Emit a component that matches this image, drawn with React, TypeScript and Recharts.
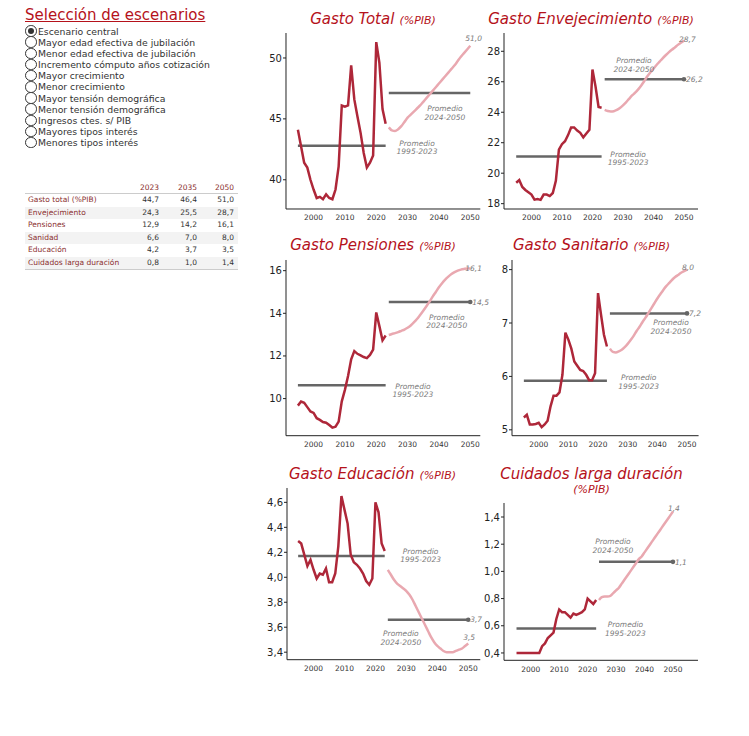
import React from 'react';
import { LineChart, Line, XAxis, YAxis, ReferenceLine, ReferenceDot } from 'recharts';

// años
const histYears = [1995, 1996, 1997, 1998, 1999, 2000, 2001, 2002, 2003, 2004, 2005, 2006, 2007, 2008, 2009,
  2010, 2011, 2012, 2013, 2014, 2015, 2016, 2017, 2018, 2019, 2020, 2021, 2022, 2023];
const projYears = [2024, 2025, 2026, 2027, 2028, 2029, 2030, 2031, 2032, 2033, 2034, 2035, 2036, 2037,
  2038, 2039, 2040, 2041, 2042, 2043, 2044, 2045, 2046, 2047, 2048, 2049, 2050];
const xTicks = [2000, 2010, 2020, 2030, 2040, 2050];

// gasto total
const totalHist = [44.1, 42.75, 41.4, 41.0, 40.0, 39.2, 38.5, 38.6, 38.4, 38.8, 38.5, 38.4, 39.2, 41.1, 46.1,
  46.0, 46.1, 49.4, 46.6, 45.2, 43.85, 42.2, 41.0, 41.4, 42.0, 51.3, 49.6, 45.8, 44.6];
const totalProj = [44.3, 44.05, 44.0, 44.15, 44.4, 44.75, 45.1, 45.35, 45.6, 45.85, 46.1, 46.4, 46.7, 47.0,
  47.3, 47.6, 47.9, 48.2, 48.5, 48.8, 49.1, 49.4, 49.75, 50.1, 50.4, 50.7, 51.0];
const totalAvg = [42.8, 47.13];

// envejecimiento
const envHist = [19.37, 19.55, 19.1, 18.9, 18.75, 18.6, 18.26, 18.3, 18.25, 18.6, 18.6, 18.5, 18.7, 19.5, 21.55,
  21.9, 22.1, 22.5, 23.0, 23.0, 22.8, 22.65, 22.35, 22.6, 22.85, 26.8, 25.7, 24.35, 24.3];
const envProj = [24.15, 24.08, 24.05, 24.07, 24.15, 24.28, 24.45, 24.65, 24.88, 25.1, 25.28, 25.5, 25.76, 26.05,
  26.36, 26.62, 26.86, 27.1, 27.32, 27.54, 27.74, 27.93, 28.1, 28.25, 28.42, 28.56, 28.7];
const envAvg = [21.1, 26.16];

// pensiones
const penHist = [9.67, 9.86, 9.8, 9.6, 9.4, 9.33, 9.08, 9.0, 8.9, 8.87, 8.76, 8.64, 8.68, 8.92, 9.87,
  10.41, 11.06, 11.84, 12.23, 12.1, 12.03, 11.95, 11.9, 12.05, 12.3, 14.04, 13.4, 12.73, 12.96];
const penProj = [12.98, 13.03, 13.07, 13.12, 13.18, 13.24, 13.32, 13.43, 13.57, 13.73, 13.92, 14.12, 14.33, 14.55,
  14.78, 15.0, 15.22, 15.41, 15.58, 15.72, 15.84, 15.93, 16.0, 16.05, 16.08, 16.1, 16.1];
const penAvg = [10.62, 14.53];

// sanitario
const sanHist = [5.23, 5.28, 5.1, 5.1, 5.11, 5.13, 5.05, 5.1, 5.17, 5.44, 5.64, 5.64, 5.7, 6.03, 6.82,
  6.69, 6.52, 6.28, 6.2, 6.12, 6.1, 6.03, 5.93, 5.93, 6.06, 7.56, 7.16, 6.78, 6.56];
const sanProj = [6.52, 6.46, 6.45, 6.47, 6.5, 6.55, 6.61, 6.68, 6.76, 6.85, 6.93, 7.02, 7.1, 7.19,
  7.28, 7.37, 7.46, 7.54, 7.62, 7.69, 7.75, 7.81, 7.86, 7.9, 7.94, 7.97, 8.0];
const sanAvg = [5.92, 7.18];

// educación
const eduHist = [4.29, 4.27, 4.18, 4.09, 4.14, 4.06, 3.99, 4.03, 4.02, 4.07, 3.96, 3.96, 4.03, 4.25, 4.65,
  4.54, 4.43, 4.18, 4.12, 4.1, 4.07, 4.03, 3.97, 3.94, 3.99, 4.6, 4.52, 4.27, 4.21];
const eduProj = [4.06, 4.02, 3.98, 3.95, 3.93, 3.91, 3.89, 3.86, 3.82, 3.77, 3.72, 3.67, 3.62, 3.57,
  3.52, 3.48, 3.45, 3.43, 3.41, 3.4, 3.4, 3.4, 3.41, 3.42, 3.43, 3.45, 3.47];
const eduAvg = [4.17, 3.66];

// cuidados larga duración
const cldHist = [0.4, 0.4, 0.4, 0.4, 0.4, 0.4, 0.4, 0.4, 0.4, 0.45, 0.47, 0.51, 0.53, 0.55, 0.65,
  0.72, 0.7, 0.7, 0.68, 0.66, 0.69, 0.68, 0.69, 0.7, 0.72, 0.8, 0.78, 0.76, 0.79];
const cldProj = [0.79, 0.81, 0.815, 0.815, 0.82, 0.84, 0.86, 0.88, 0.91, 0.94, 0.97, 1.0, 1.03, 1.06,
  1.09, 1.11, 1.14, 1.17, 1.2, 1.23, 1.26, 1.29, 1.32, 1.35, 1.38, 1.41, 1.44];
const cldAvg = [0.58, 1.07];

// escenarios y tabla resumen
const scenarios = ['Escenario central', 'Mayor edad efectiva de jubilación', 'Menor edad efectiva de jubilación',
  'Incremento cómputo años cotización', 'Mayor crecimiento', 'Menor crecimiento', 'Mayor tensión demográfica',
  'Menor tensión demográfica', 'Ingresos ctes. s/ PIB', 'Mayores tipos interés', 'Menores tipos interés'];
const tableYears = ['2023', '2035', '2050'];
const tableRows = ['Gasto total (%PIB)', 'Envejecimiento', 'Pensiones', 'Sanidad', 'Educación', 'Cuidados larga duración'];
const tableValues = [
  ['44,7', '46,4', '51,0'],
  ['24,3', '25,5', '28,7'],
  ['12,9', '14,2', '16,1'],
  ['6,6', '7,0', '8,0'],
  ['4,2', '3,7', '3,5'],
  ['0,8', '1,0', '1,4'],
];

const RED = '#b5121b';
const HIST = '#ae2739';
const PROJ = '#e9a8b0';
const AVG = '#666666';
const NOTE = '#7a7a7a';
const FONT = '"DejaVu Sans", Verdana, sans-serif';
const colRight = [134, 172, 209];

const fmt = (v: number, d: number) => v.toFixed(d).replace('.', ',');

type PanelCfg = {
  title: string; twoLines: boolean;
  tx: number; ty: number;
  x0: number; x1: number; y0: number; y1: number;
  xDomain: [number, number]; yDomain: [number, number];
  yTicks: number[]; dec: number;
  hist: number[]; proj: number[]; avg: number[];
  histNote: [number, number]; projNote: [number, number];
  endDy: number; endDot: boolean;
};

const panels: PanelCfg[] = [
  { title: 'Gasto Total', twoLines: false, tx: 373, ty: 19, x0: 285.7, x1: 480, y0: 33.3, y1: 209.3,
    xDomain: [1991.2, 2053.2], yDomain: [37.6, 52.05], yTicks: [40, 45, 50], dec: 0,
    hist: totalHist, proj: totalProj, avg: totalAvg, histNote: [2033, 42.69], projNote: [2041.9, 45.53], endDy: -7.5, endDot: false },
  { title: 'Gasto Envejecimiento', twoLines: false, tx: 591, ty: 19, x0: 504.3, x1: 698.3, y0: 33.3, y1: 209.3,
    xDomain: [1991, 2054.6], yDomain: [17.65, 29.2], yTicks: [18, 20, 22, 24, 26, 28], dec: 0,
    hist: envHist, proj: envProj, avg: envAvg, histNote: [2031.7, 21.0], projNote: [2033.6, 27.14], endDy: -1, endDot: true },
  { title: 'Gasto Pensiones', twoLines: false, tx: 373, ty: 245, x0: 285.7, x1: 480, y0: 260, y1: 435.7,
    xDomain: [1991.2, 2053.2], yDomain: [8.26, 16.5], yTicks: [10, 12, 14, 16], dec: 0,
    hist: penHist, proj: penProj, avg: penAvg, histNote: [2031.7, 10.41], projNote: [2042.5, 13.64], endDy: 0, endDot: true },
  { title: 'Gasto Sanitario', twoLines: false, tx: 591.5, ty: 245, x0: 511.7, x1: 698.3, y0: 260, y1: 435.7,
    xDomain: [1991, 2053.9], yDomain: [4.89, 8.18], yTicks: [5, 6, 7, 8], dec: 0,
    hist: sanHist, proj: sanProj, avg: sanAvg, histNote: [2033.7, 5.91], projNote: [2044.6, 6.93], endDy: -2, endDot: true },
  { title: 'Gasto Educación', twoLines: false, tx: 372.5, ty: 474, x0: 286.7, x1: 480, y0: 488.3, y1: 660,
    xDomain: [1991.4, 2053.9], yDomain: [3.34, 4.715], yTicks: [3.4, 3.6, 3.8, 4.0, 4.2, 4.4, 4.6], dec: 1,
    hist: eduHist, proj: eduProj, avg: eduAvg, histNote: [2034.6, 4.18], projNote: [2028.2, 3.52], endDy: -6.5, endDot: true },
  { title: 'Cuidados larga duración', twoLines: true, tx: 591.5, ty: 474, x0: 504.3, x1: 698.3, y0: 502.7, y1: 660,
    xDomain: [1990.6, 2058.8], yDomain: [0.346, 1.503], yTicks: [0.4, 0.6, 0.8, 1.0, 1.2, 1.4], dec: 1,
    hist: cldHist, proj: cldProj, avg: cldAvg, histNote: [2033.3, 0.58], projNote: [2028.9, 1.19], endDy: -3.3, endDot: true },
];

function noteShape(lines: string[]) {
  return (p: any) => (
    <text x={p.cx} y={p.cy} textAnchor="middle" fontSize={7.5} fontStyle="italic" fill={NOTE}>
      <tspan x={p.cx} dy={-1.3}>{lines[0]}</tspan>
      <tspan x={p.cx} dy={8.6}>{lines[1]}</tspan>
    </text>
  );
}

function Title({ p }: { p: PanelCfg }) {
  const box = { position: 'absolute' as const, left: p.tx - 150, width: 300, textAlign: 'center' as const,
    color: RED, fontStyle: 'italic', whiteSpace: 'nowrap' as const };
  if (p.twoLines) {
    return (
      <>
        <div style={{ ...box, top: p.ty - 10, lineHeight: '20px', fontSize: 15 }}>{p.title}</div>
        <div style={{ ...box, top: p.ty + 10, lineHeight: '12px', fontSize: 11 }}>(%PIB)</div>
      </>
    );
  }
  return (
    <div style={{ ...box, top: p.ty - 10, lineHeight: '20px' }}>
      <span style={{ fontSize: 15 }}>{p.title}</span>{' '}
      <span style={{ fontSize: 11 }}>(%PIB)</span>
    </div>
  );
}

function Panel({ p }: { p: PanelCfg }) {
  const yw = 40, mt = 12, mr = 12, mb = 26, xh = 20;
  const width = p.x1 - p.x0 + yw + mr;
  const height = p.y1 - p.y0 + mt + mb;
  const rows = [
    ...histYears.map((year, i) => ({ year, hist: p.hist[i] })),
    ...projYears.map((year, i) => ({ year, proj: p.proj[i] })),
  ];
  const lastProj = p.proj[p.proj.length - 1];
  return (
    <>
      <Title p={p} />
      <div style={{ position: 'absolute', left: p.x0 - yw, top: p.y0 - mt }}>
        <LineChart width={width} height={height} data={rows} margin={{ top: mt, right: mr, left: 0, bottom: mb - xh }}>
          <XAxis type="number" dataKey="year" domain={p.xDomain} allowDataOverflow ticks={xTicks}
            height={xh} tickLine={false} tickSize={4} tickMargin={2}
            axisLine={{ stroke: '#222' }} tick={{ fontSize: 7.5, fill: '#333' }} />
          <YAxis type="number" domain={p.yDomain} allowDataOverflow ticks={p.yTicks} width={yw}
            tickSize={3} tickMargin={1} axisLine={{ stroke: '#222' }} tickLine={{ stroke: '#222' }}
            tick={{ fontSize: 10, fill: '#222' }} tickFormatter={(v: number) => fmt(v, p.dec)} />
          <ReferenceLine segment={[{ x: 1995, y: p.avg[0] }, { x: 2023, y: p.avg[0] }]} stroke={AVG} strokeWidth={2.5} />
          <ReferenceLine segment={[{ x: 2024, y: p.avg[1] }, { x: 2050, y: p.avg[1] }]} stroke={AVG} strokeWidth={2.5} />
          <Line dataKey="hist" stroke={HIST} strokeWidth={2.5} dot={false} type="linear" isAnimationActive={false} />
          <Line dataKey="proj" stroke={PROJ} strokeWidth={2.5} dot={false} type="monotone" isAnimationActive={false} />
          <ReferenceDot x={p.histNote[0]} y={p.histNote[1]} r={0} shape={noteShape(['Promedio', '1995-2023'])} />
          <ReferenceDot x={p.projNote[0]} y={p.projNote[1]} r={0} shape={noteShape(['Promedio', '2024-2050'])} />
          <ReferenceDot x={2050} y={lastProj} r={0} shape={(d: any) => (
            <text x={d.cx - 5} y={d.cy + p.endDy + 2.7} fontSize={7.5} fontStyle="italic" fill={NOTE}>{fmt(lastProj, 1)}</text>
          )} />
          {p.endDot && (
            <ReferenceDot x={2050} y={p.avg[1]} r={0} shape={(d: any) => (
              <g>
                <circle cx={d.cx} cy={d.cy} r={2.3} fill={AVG} />
                <text x={d.cx + 2} y={d.cy + 2.7} fontSize={7.5} fontStyle="italic" fill={NOTE}>{fmt(p.avg[1], 1)}</text>
              </g>
            )} />
          )}
        </LineChart>
      </div>
    </>
  );
}

export default function App() {
  return (
    <div style={{ position: 'absolute', left: 0, top: 0, width: 749, height: 736, background: '#fff', fontFamily: FONT }}>
      <div style={{ position: 'absolute', left: 25, top: 5, fontSize: 15, color: RED, textDecoration: 'underline', lineHeight: '20px' }}>
        Selección de escenarios
      </div>
      {scenarios.map((s, i) => (
        <div key={s} style={{ position: 'absolute', left: 25, top: 31 + i * 11.17 - 6, height: 12, display: 'flex', alignItems: 'center' }}>
          <span style={{ width: 11.5, height: 11.5, borderRadius: '50%', border: '1.2px solid #333', boxSizing: 'border-box',
            display: 'inline-flex', alignItems: 'center', justifyContent: 'center', background: '#fff', flexShrink: 0 }}>
            {i === 0 && <span style={{ width: 6.5, height: 6.5, borderRadius: '50%', background: '#333' }} />}
          </span>
          <span style={{ marginLeft: 1.5, fontSize: 9.3, color: '#333', whiteSpace: 'nowrap' }}>{s}</span>
        </div>
      ))}
      <div style={{ position: 'absolute', left: 25, top: 182, width: 213, fontSize: 7.5 }}>
        <div style={{ position: 'relative', height: 11, borderBottom: '1px solid #ccc' }}>
          {tableYears.map((y, j) => (
            <span key={y} style={{ position: 'absolute', right: 213 - colRight[j], top: 1, color: '#8b2f2f' }}>{y}</span>
          ))}
        </div>
        {tableRows.map((r, i) => (
          <div key={r} style={{ position: 'relative', height: 12.5, lineHeight: '12.5px', background: i % 2 === 1 ? '#f3f3f3' : '#fff',
            borderBottom: i === tableRows.length - 1 ? '1px solid #ccc' : undefined }}>
            <span style={{ position: 'absolute', left: 3, color: '#8b2f2f' }}>{r}</span>
            {tableValues[i].map((v, j) => (
              <span key={j} style={{ position: 'absolute', right: 213 - colRight[j], color: '#333' }}>{v}</span>
            ))}
          </div>
        ))}
      </div>
      {panels.map((p) => <Panel key={p.title} p={p} />)}
    </div>
  );
}
